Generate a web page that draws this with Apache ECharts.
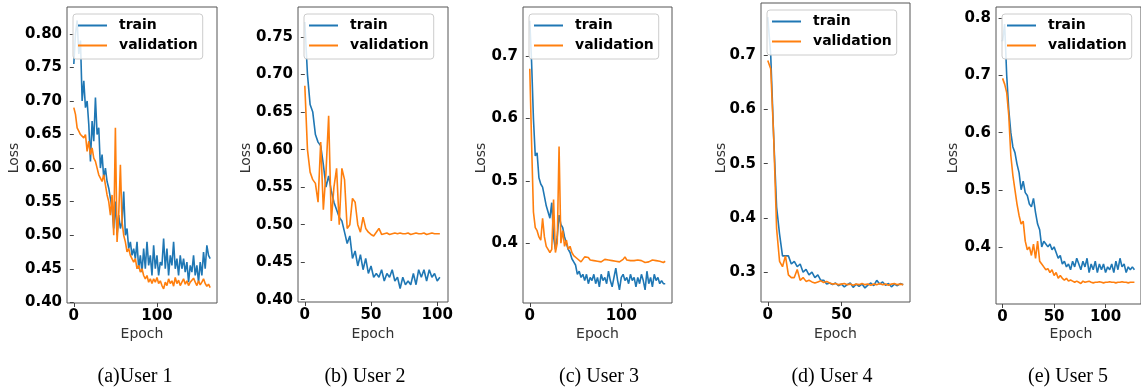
<!DOCTYPE html>
<html><head><meta charset="utf-8">
<script src="https://cdn.jsdelivr.net/npm/echarts@6/dist/echarts.min.js"></script>
<style>html,body{margin:0;padding:0;background:#fff}#c{width:1141px;height:392px}</style>
</head><body><div id="c"></div>
<script>
// ---------- data ----------
const EPOCH_STEP = 2; // values below are read every 2 epochs, starting at epoch 0
const seriesNames = ['train', 'validation'];
const captions = ['(a)User 1', '(b) User 2', '(c) User 3', '(d) User 4', '(e) User 5'];

const u1Train = [0.755,0.80,0.82,0.77,0.79,0.70,0.73,0.69,0.70,0.665,
 0.61,0.67,0.64,0.705,0.65,0.66,0.60,0.62,0.585,0.60,
 0.58,0.57,0.555,0.54,0.51,0.55,0.50,0.53,0.51,0.52,
 0.565,0.50,0.51,0.48,0.49,0.47,0.48,0.465,0.49,0.45,
 0.47,0.445,0.48,0.45,0.49,0.455,0.47,0.44,0.485,0.45,
 0.47,0.44,0.46,0.455,0.495,0.45,0.48,0.44,0.47,0.455,
 0.49,0.45,0.465,0.44,0.47,0.45,0.465,0.445,0.46,0.43,
 0.455,0.445,0.47,0.44,0.455,0.43,0.46,0.44,0.475,0.45,
 0.485,0.47,0.465];
const u1Val = [0.69,0.68,0.66,0.655,0.65,0.65,0.645,0.65,0.625,0.64,
 0.62,0.63,0.615,0.61,0.60,0.59,0.585,0.58,0.59,0.575,
 0.56,0.55,0.53,0.56,0.50,0.66,0.49,0.53,0.605,0.52,
 0.50,0.49,0.475,0.48,0.47,0.47,0.46,0.465,0.45,0.455,
 0.445,0.45,0.44,0.435,0.44,0.43,0.435,0.428,0.435,0.43,
 0.437,0.428,0.432,0.425,0.42,0.43,0.425,0.435,0.428,0.432,
 0.424,0.437,0.428,0.433,0.425,0.43,0.435,0.427,0.432,0.425,
 0.43,0.428,0.436,0.43,0.425,0.432,0.426,0.43,0.435,0.428,
 0.424,0.427,0.422];

const u2Train = [0.77,0.70,0.66,0.65,0.62,0.61,0.605,0.58,0.55,0.565,
 0.545,0.53,0.52,0.51,0.505,0.49,0.475,0.485,0.455,0.465,
 0.445,0.46,0.44,0.455,0.435,0.445,0.43,0.435,0.43,0.44,
 0.425,0.435,0.43,0.44,0.425,0.43,0.415,0.43,0.42,0.425,
 0.42,0.435,0.42,0.44,0.43,0.44,0.425,0.44,0.43,0.435,
 0.425,0.43];
const u2Val = [0.685,0.60,0.57,0.56,0.555,0.53,0.61,0.52,0.57,0.645,
 0.505,0.55,0.575,0.50,0.575,0.56,0.495,0.50,0.535,0.53,
 0.50,0.49,0.51,0.495,0.49,0.487,0.485,0.49,0.495,0.487,
 0.488,0.489,0.487,0.488,0.489,0.488,0.489,0.488,0.488,0.489,
 0.487,0.488,0.489,0.488,0.488,0.489,0.487,0.488,0.489,0.488,
 0.488,0.488];

const u3Train = [0.757,0.69,0.60,0.54,0.545,0.505,0.495,0.49,0.475,0.46,
 0.45,0.44,0.465,0.41,0.39,0.41,0.445,0.43,0.425,0.41,
 0.40,0.39,0.385,0.375,0.37,0.365,0.35,0.355,0.345,0.35,
 0.34,0.35,0.335,0.345,0.34,0.35,0.335,0.345,0.33,0.35,
 0.34,0.345,0.335,0.355,0.34,0.33,0.345,0.36,0.34,0.325,
 0.345,0.35,0.34,0.345,0.335,0.35,0.34,0.345,0.33,0.345,
 0.335,0.35,0.34,0.325,0.355,0.335,0.345,0.33,0.35,0.34,
 0.345,0.335,0.34,0.335,0.335];
const u3Val = [0.68,0.56,0.45,0.425,0.42,0.41,0.405,0.44,0.41,0.395,
 0.39,0.385,0.39,0.47,0.385,0.40,0.555,0.40,0.42,0.395,
 0.405,0.39,0.395,0.385,0.38,0.38,0.375,0.372,0.37,0.373,
 0.378,0.375,0.377,0.373,0.376,0.372,0.374,0.371,0.373,0.37,
 0.372,0.374,0.371,0.373,0.37,0.372,0.369,0.371,0.373,0.37,
 0.372,0.374,0.378,0.373,0.371,0.372,0.37,0.372,0.371,0.373,
 0.37,0.372,0.371,0.369,0.372,0.37,0.371,0.373,0.37,0.372,
 0.37,0.371,0.37,0.369,0.371];

const u4Train = [0.77,0.70,0.55,0.42,0.37,0.33,0.33,0.33,0.315,0.32,
 0.31,0.315,0.30,0.305,0.295,0.30,0.29,0.295,0.285,0.285,
 0.278,0.28,0.277,0.28,0.275,0.278,0.273,0.277,0.28,0.272,
 0.278,0.274,0.278,0.271,0.276,0.28,0.275,0.285,0.278,0.282,
 0.276,0.279,0.273,0.278,0.275,0.279,0.277];
const u4Val = [0.69,0.675,0.55,0.38,0.32,0.31,0.33,0.295,0.29,0.29,
 0.305,0.285,0.29,0.283,0.285,0.282,0.28,0.282,0.284,0.281,
 0.283,0.28,0.278,0.279,0.277,0.278,0.279,0.277,0.278,0.276,
 0.278,0.277,0.279,0.277,0.278,0.276,0.278,0.277,0.279,0.277,
 0.278,0.276,0.278,0.279,0.277,0.278,0.277];

const u5Train = [0.76,0.79,0.70,0.64,0.60,0.575,0.565,0.545,0.53,0.50,
 0.515,0.495,0.49,0.475,0.47,0.485,0.46,0.44,0.43,0.40,
 0.41,0.405,0.40,0.405,0.395,0.40,0.39,0.38,0.385,0.37,
 0.375,0.365,0.37,0.36,0.375,0.365,0.38,0.37,0.36,0.375,
 0.365,0.38,0.355,0.37,0.36,0.375,0.355,0.37,0.36,0.37,
 0.355,0.365,0.36,0.37,0.355,0.375,0.36,0.38,0.365,0.37,
 0.355,0.365,0.36,0.365,0.36];
const u5Val = [0.695,0.685,0.67,0.63,0.56,0.525,0.50,0.475,0.455,0.44,
 0.445,0.41,0.395,0.40,0.385,0.405,0.38,0.41,0.375,0.37,
 0.365,0.36,0.362,0.355,0.36,0.35,0.355,0.345,0.35,0.345,
 0.342,0.345,0.34,0.342,0.34,0.338,0.34,0.338,0.336,0.34,
 0.338,0.339,0.34,0.338,0.337,0.338,0.338,0.339,0.338,0.337,
 0.338,0.338,0.339,0.338,0.338,0.337,0.338,0.338,0.339,0.338,
 0.338,0.337,0.338,0.338,0.338];

const u1XTicks = ['0', '100'];
const u2XTicks = ['0', '50', '100'];
const u3XTicks = ['0', '100'];
const u4XTicks = ['0', '50'];
const u5XTicks = ['0', '50', '100'];
const u1YTicks = ['0.40','0.45','0.50','0.55','0.60','0.65','0.70','0.75','0.80'];
const u2YTicks = ['0.40','0.45','0.50','0.55','0.60','0.65','0.70','0.75'];
const u3YTicks = ['0.4','0.5','0.6','0.7'];
const u4YTicks = ['0.3','0.4','0.5','0.6','0.7'];
const u5YTicks = ['0.4','0.5','0.6','0.7','0.8'];

// ---------- layout ----------
const panels = [
  {train:u1Train, val:u1Val, xt:u1XTicks, yt:u1YTicks, g:{left:67, top:7, width:150, height:296}, xr:[-8.2,172.2], yr:[0.399,0.84], lossX:14, capX:135},
  {train:u2Train, val:u2Val, xt:u2XTicks, yt:u2YTicks, g:{left:298, top:7, width:150, height:295}, xr:[-5.15,108.15], yr:[0.397,0.79], lossX:246, capX:365},
  {train:u3Train, val:u3Val, xt:u3XTicks, yt:u3YTicks, g:{left:523, top:7, width:149, height:296}, xr:[-7.4,155.4], yr:[0.304,0.779], lossX:481, capX:599},
  {train:u4Train, val:u4Val, xt:u4XTicks, yt:u4YTicks, g:{left:761, top:3, width:149, height:299}, xr:[-4.6,96.6], yr:[0.245,0.796], lossX:721, capX:832},
  {train:u5Train, val:u5Val, xt:u5XTicks, yt:u5YTicks, g:{left:996, top:7, width:150, height:297}, xr:[-6.4,134.4], yr:[0.30,0.82], lossX:953, capX:1068}
];
const COLORS = ['#1f77b4', '#ff7f0e'];
const tickFont = {fontFamily:'DejaVu Sans', fontWeight:'bold', fontSize:15, color:'#000'};
const lab = arr => v => { const s = arr.find(t => Math.abs(parseFloat(t) - v) < 1e-9); return s === undefined ? '' : s; };
const toPairs = vals => vals.map((v, i) => [i * EPOCH_STEP, v]);

const grid = [], xAxis = [], yAxis = [], series = [], legend = [], graphic = [];
panels.forEach((p, i) => {
  grid.push(Object.assign({show:true, borderColor:'#555', borderWidth:1, containLabel:false}, p.g));
  const xv = p.xt.map(Number), yv = p.yt.map(Number);
  xAxis.push({type:'value', gridIndex:i, min:p.xr[0], max:p.xr[1],
    axisLine:{show:false}, splitLine:{show:false},
    axisTick:{show:true, length:4, inside:false, customValues:xv, lineStyle:{color:'#444'}},
    axisLabel:Object.assign({customValues:xv, formatter:lab(p.xt), margin:6}, tickFont)});
  yAxis.push({type:'value', gridIndex:i, min:p.yr[0], max:p.yr[1],
    axisLine:{show:false}, splitLine:{show:false},
    axisTick:{show:true, length:4, inside:false, customValues:yv, lineStyle:{color:'#444'}},
    axisLabel:Object.assign({customValues:yv, formatter:lab(p.yt), margin:5}, tickFont)});
  [p.train, p.val].forEach((d, k) => {
    series.push({type:'line', name:seriesNames[k], xAxisIndex:i, yAxisIndex:i,
      data:toPairs(d), showSymbol:false, symbol:'none', clip:true, color:COLORS[k],
      lineStyle:{width:1.6, color:COLORS[k]}, emphasis:{disabled:true}, z:2+k});
  });
  legend.push({orient:'vertical', left:p.g.left + 6, top:p.g.top + 7,
    data:seriesNames, icon:'rect', itemWidth:29, itemHeight:2, itemGap:3,
    padding:[3,5,5,5], borderColor:'#cccccc', borderWidth:1, borderRadius:3,
    backgroundColor:'rgba(255,255,255,0.85)', selectedMode:false, z:10,
    textStyle:{fontFamily:'DejaVu Sans', fontWeight:'bold', fontSize:14, color:'#000', lineHeight:17, padding:[0,0,0,7]}});
  const cx = p.g.left + p.g.width / 2;
  graphic.push({type:'text', x:p.lossX, y:158, rotation:Math.PI/2,
    style:{text:'Loss', fontFamily:'DejaVu Sans', fontSize:14, fill:'#333', align:'center', verticalAlign:'middle'}});
  graphic.push({type:'text', x:cx, y:334,
    style:{text:'Epoch', fontFamily:'DejaVu Sans', fontSize:14, fill:'#333', align:'center', verticalAlign:'middle'}});
  graphic.push({type:'text', x:p.capX, y:377,
    style:{text:captions[i], fontFamily:'Liberation Serif', fontSize:20, fill:'#000', align:'center', verticalAlign:'middle'}});
});

const chart = echarts.init(document.getElementById('c'), null, {renderer:'canvas'});
chart.setOption({animation:false, backgroundColor:'#fff', grid, xAxis, yAxis, series, legend, graphic});
</script></body></html>
